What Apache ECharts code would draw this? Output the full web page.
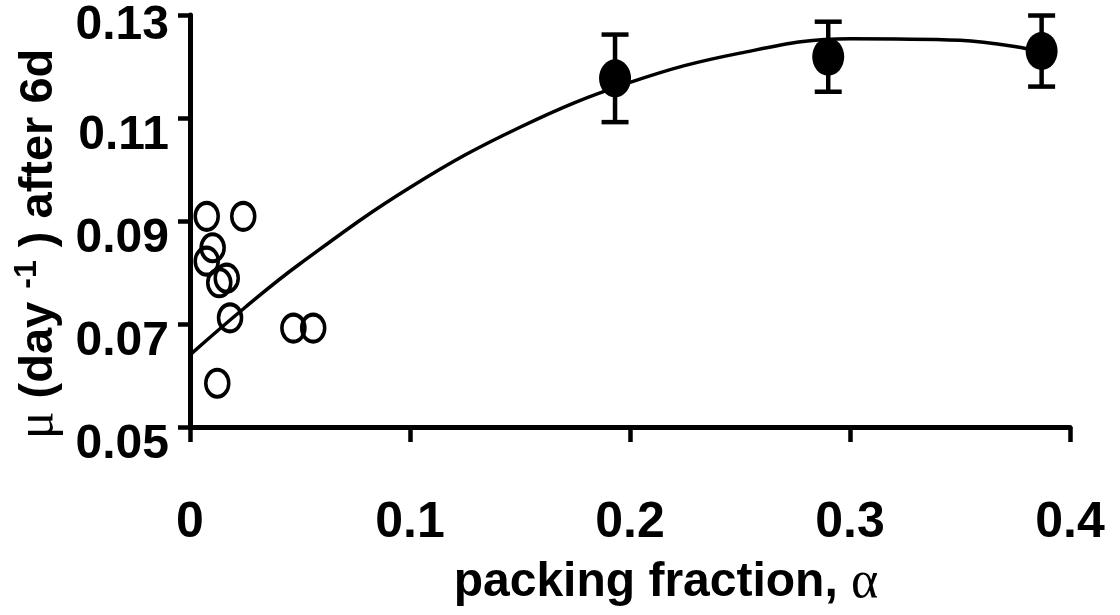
<!DOCTYPE html>
<html><head><meta charset="utf-8">
<script src="https://cdn.jsdelivr.net/npm/echarts@6/dist/echarts.min.js"></script>
<style>html,body{margin:0;padding:0;background:#fff}#c{width:1120px;height:615px}</style>
</head><body><div id="c"></div>
<script>
// tick values / labels
const xTicks = [0, 0.1, 0.2, 0.3, 0.4];
const xTickLabels = ['0', '0.1', '0.2', '0.3', '0.4'];
const yTicks = [0.05, 0.07, 0.09, 0.11, 0.13];
const yTickLabels = ['0.05', '0.07', '0.09', '0.11', '0.13'];

// open circles
const openX = [0.0076, 0.0242, 0.0103, 0.0076, 0.0167, 0.0133, 0.0182, 0.0470, 0.0560, 0.0124];
const openY = [0.0909, 0.0909, 0.0848, 0.0822, 0.0789, 0.0780, 0.0712, 0.0692, 0.0692, 0.0585];

// filled points with error bars
const filledX = [0.1932, 0.2901, 0.3871];
const filledY = [0.1177, 0.1219, 0.1230];
const filledErr = [0.0085, 0.0068, 0.0069];

// fitted curve
const curveX = [0, 0.025, 0.05, 0.1, 0.15, 0.2, 0.25, 0.3, 0.35, 0.387];
const curveY = [0.0640, 0.0732, 0.0817, 0.0965, 0.1082, 0.1169, 0.1226, 0.1254, 0.1251, 0.1229];

const SANS = "'Liberation Sans', Arial, sans-serif";
const SERIF = "'Liberation Serif', 'Times New Roman', serif";
const ELLIPSE = 'path://M0,50 A50,50 0 1,1 100,50 A50,50 0 1,1 0,50 Z';

function fmtY(v) {
  const i = yTicks.findIndex(t => Math.abs(t - v) < 1e-9);
  const s = i >= 0 ? yTickLabels[i] : '';
  return i === yTicks.length - 1 ? '{t|' + s + '}' : '{d|' + s + '}';
}
function fmtX(v) {
  const i = xTicks.findIndex(t => Math.abs(t - v) < 1e-9);
  return i >= 0 ? xTickLabels[i] : '';
}

const chart = echarts.init(document.getElementById('c'), null, {renderer: 'canvas'});
chart.setOption({
  backgroundColor: '#fff',
  animation: false,
  grid: {left: 190, right: 50, top: 15, bottom: 188, containLabel: false},
  xAxis: {
    type: 'value', min: 0, max: 0.4,
    axisLine: {show: true, onZero: false, lineStyle: {color: '#000', width: 5}},
    axisTick: {show: true, inside: false, length: 15, customValues: xTicks, lineStyle: {color: '#000', width: 4.5}},
    axisLabel: {customValues: xTicks, formatter: fmtX, color: '#000', fontFamily: SANS, fontWeight: 'bold', fontSize: 50, margin: 71},
    splitLine: {show: false},
    name: '{b|packing fraction, }{a|α}',
    nameLocation: 'middle', nameGap: 129,
    nameTextStyle: {
      padding: [0, 0, 0, 72],
      rich: {
        b: {fontFamily: SANS, fontWeight: 'bold', fontSize: 48, color: '#000', lineHeight: 54},
        a: {fontFamily: SERIF, fontWeight: 'normal', fontSize: 52, color: '#000', lineHeight: 54}
      }
    }
  },
  yAxis: {
    type: 'value', min: 0.05, max: 0.13,
    axisLine: {show: true, onZero: false, lineStyle: {color: '#000', width: 5}},
    axisTick: {show: true, inside: false, length: 12, customValues: yTicks, lineStyle: {color: '#000', width: 4.5}},
    axisLabel: {
      customValues: yTicks, formatter: fmtY, margin: 21,
      rich: {
        t: {fontFamily: SANS, fontWeight: 'bold', fontSize: 48, color: '#000', padding: [22, 0, 0, 0]},
        d: {fontFamily: SANS, fontWeight: 'bold', fontSize: 48, color: '#000', padding: [36, 0, 0, 0]}
      }
    },
    splitLine: {show: false},
    name: '{mu|μ}{b| (day }{sup|-1}{b| ) after 6d}',
    nameLocation: 'middle', nameGap: 110,
    nameTextStyle: {
      padding: [0, 46, 0, 0],
      rich: {
        mu: {fontFamily: SERIF, fontWeight: 'normal', fontSize: 52, color: '#000', lineHeight: 56},
        b: {fontFamily: SANS, fontWeight: 'bold', fontSize: 47, color: '#000', lineHeight: 56},
        sup: {fontFamily: SANS, fontWeight: 'bold', fontSize: 32, color: '#000', lineHeight: 32, verticalAlign: 'top'}
      }
    }
  },
  series: [
    {
      type: 'line', data: curveX.map((x, i) => [x, curveY[i]]),
      smooth: 0.4, showSymbol: false, symbol: 'none',
      lineStyle: {color: '#000', width: 3.5}, z: 3
    },
    {
      type: 'scatter', data: openX.map((x, i) => [x, openY[i]]),
      symbol: ELLIPSE, symbolSize: [23, 27],
      itemStyle: {color: 'rgba(0,0,0,0)', borderColor: '#000', borderWidth: 3.8, opacity: 1}, z: 4
    },
    {
      type: 'custom',
      data: filledX.map((x, i) => [x, filledY[i] - filledErr[i], filledY[i] + filledErr[i]]),
      encode: {x: 0, y: [1, 2]},
      renderItem: function (params, api) {
        const x = api.value(0), lo = api.value(1), hi = api.value(2);
        const pLo = api.coord([x, lo]), pHi = api.coord([x, hi]);
        const hw = 13.5;
        const st = {stroke: '#000', lineWidth: 4.5};
        return {type: 'group', children: [
          {type: 'line', shape: {x1: pLo[0], y1: pLo[1], x2: pHi[0], y2: pHi[1]}, style: st},
          {type: 'line', shape: {x1: pLo[0] - hw, y1: pLo[1], x2: pLo[0] + hw, y2: pLo[1]}, style: st},
          {type: 'line', shape: {x1: pHi[0] - hw, y1: pHi[1], x2: pHi[0] + hw, y2: pHi[1]}, style: st}
        ]};
      },
      z: 5
    },
    {
      type: 'scatter', data: filledX.map((x, i) => [x, filledY[i]]),
      symbol: ELLIPSE, symbolSize: [32, 38],
      itemStyle: {color: '#000', borderWidth: 0, opacity: 1}, z: 6
    }
  ]
});
</script>
</body></html>
